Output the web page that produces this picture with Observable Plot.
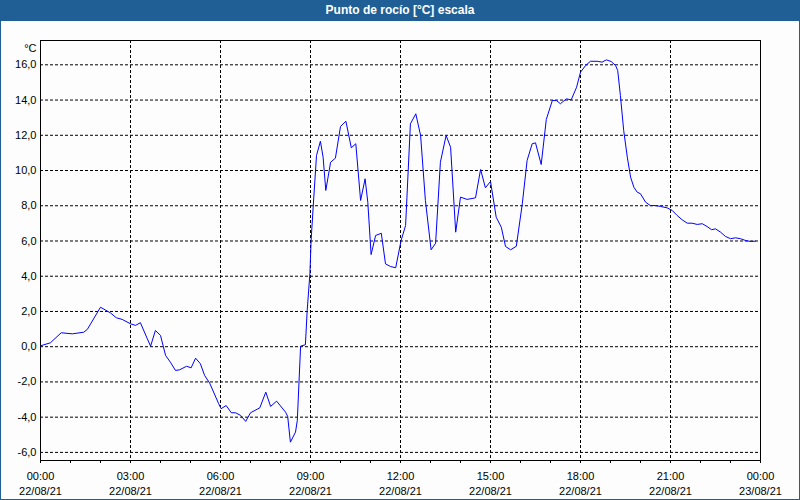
<!DOCTYPE html>
<html><head><meta charset="utf-8">
<script src="https://cdn.jsdelivr.net/npm/d3@7"></script>
<script src="https://cdn.jsdelivr.net/npm/@observablehq/plot@0.6"></script>
<style>
html,body{margin:0;padding:0;background:#fcfdfc;}
#wrap{position:relative;width:800px;height:500px;overflow:hidden;background:#fcfdfc;}
#title{height:21px;background:#1f5f96;color:#fff;font:bold 12px "Liberation Sans",Arial,sans-serif;text-align:center;line-height:21px;}
#chart svg{display:block;}
#border{position:absolute;left:0;top:0;width:798px;height:499px;border:1px solid #1f5f96;border-top:none;pointer-events:none;}
</style></head>
<body><div id="wrap"><div id="title">Punto de rocío [°C] escala</div><div id="chart"></div><div id="border"></div></div>
<script>
const hours = [0.00,0.33,0.69,1.06,1.44,1.56,2.00,2.33,2.53,2.72,3.00,3.17,3.33,3.56,3.67,3.83,4.00,4.17,4.33,4.50,4.64,4.87,5.02,5.17,5.33,5.47,5.64,5.94,6.02,6.19,6.36,6.50,6.67,6.84,7.00,7.31,7.51,7.67,7.87,8.17,8.24,8.33,8.50,8.56,8.67,8.83,8.89,8.98,9.02,9.11,9.20,9.33,9.42,9.51,9.67,9.83,10.00,10.18,10.36,10.51,10.67,10.82,10.91,11.02,11.17,11.36,11.50,11.67,11.84,12.02,12.17,12.33,12.51,12.67,12.83,13.02,13.17,13.33,13.52,13.67,13.84,14.00,14.22,14.50,14.67,14.83,15.00,15.19,15.36,15.50,15.67,15.86,16.06,16.22,16.39,16.50,16.69,16.86,17.06,17.20,17.33,17.53,17.69,17.87,18.00,18.17,18.33,18.56,18.72,18.86,19.02,19.17,19.24,19.33,19.44,19.56,19.67,19.78,19.89,20.00,20.17,20.33,20.50,20.67,20.89,21.06,21.22,21.39,21.56,21.72,21.89,22.06,22.22,22.37,22.50,22.67,22.83,23.00,23.17,23.33,23.50,23.67,23.83];
const dewPoint = [0.05,0.22,0.79,0.73,0.82,0.98,2.24,1.92,1.64,1.55,1.30,1.21,1.36,0.45,0.03,0.92,0.64,-0.50,-0.88,-1.35,-1.31,-1.11,-1.20,-0.65,-0.97,-1.63,-2.07,-3.24,-3.52,-3.34,-3.75,-3.75,-3.90,-4.24,-3.75,-3.47,-2.58,-3.39,-3.09,-3.72,-3.96,-5.42,-4.85,-4.19,0.03,0.11,2.06,4.14,6.03,8.49,10.85,11.66,10.76,8.87,10.47,10.70,12.50,12.80,11.29,11.52,8.30,9.53,8.20,5.23,6.31,6.44,4.70,4.55,4.48,6.03,6.88,12.65,13.22,11.99,8.30,5.50,5.87,10.47,11.99,11.32,6.50,8.49,8.36,8.45,10.06,9.02,9.38,7.35,6.78,5.69,5.50,5.70,8.11,10.57,11.52,11.57,10.34,12.90,13.97,13.97,13.79,14.07,14.01,14.73,15.58,15.96,16.20,16.20,16.15,16.28,16.19,15.96,15.68,14.26,12.27,10.76,9.62,9.05,8.77,8.68,8.20,8.01,8.01,7.96,7.88,7.73,7.45,7.20,7.01,7.01,6.94,6.98,6.82,6.64,6.69,6.50,6.26,6.13,6.18,6.13,6.03,5.97,5.99];
const yTicks = [-6,-4,-2,0,2,4,6,8,10,12,14,16];
const xTickHours = [0,3,6,9,12,15,18,21,24];
const xTickTimes = ["00:00","03:00","06:00","09:00","12:00","15:00","18:00","21:00","00:00"];
const xTickDates = ["22/08/21","22/08/21","22/08/21","22/08/21","22/08/21","22/08/21","22/08/21","22/08/21","23/08/21"];
const xMinorHours = [0,1,2,3,4,5,6,7,8,9,10,11,12,13,14,15,16,17,18,19,20,21,22,23,24];
const yUnit = "°C";

const data = hours.map((h, i) => ({h, v: dewPoint[i]}));
const labelOf = new Map(xTickHours.map((h, i) => [h, xTickTimes[i] + "\n" + xTickDates[i]]));

const chart = Plot.plot({
  width: 800, height: 479,
  marginTop: 19, marginBottom: 40, marginLeft: 40, marginRight: 40,
  style: {background: "transparent", fontFamily: "'Liberation Sans', Arial, sans-serif", fontSize: "11px", color: "#000"},
  x: {domain: [0, 24], label: null},
  y: {domain: [-6.46, 17.38], label: null},
  marks: [
    Plot.gridX(xTickHours.filter(h => h > 0 && h < 24), {stroke: "#000", strokeOpacity: 1, strokeDasharray: "3,2"}),
    Plot.gridY(yTicks, {stroke: "#000", strokeOpacity: 1, strokeDasharray: "3,2"}),
    Plot.axisX(xMinorHours, {tickSize: 3, tickFormat: () => "", label: null, stroke: "#000"}),
    Plot.axisX(xTickHours, {tickSize: 3, tickPadding: 6, tickFormat: h => labelOf.get(h), lineHeight: 1.33, fontSize: 11, label: null, stroke: "#000"}),
    Plot.axisY(yTicks, {tickSize: 0, tickPadding: 4, tickFormat: d => d.toFixed(1).replace(".", ","), label: null, fontSize: 11}),
    Plot.text([yUnit], {frameAnchor: "top-left", dx: -4, dy: 4, textAnchor: "end", text: d => d, fontSize: 11}),
    Plot.frame({stroke: "#000"}),
    Plot.line(data, {x: "h", y: "v", stroke: "#0000ff", strokeWidth: 1})
  ]
});
document.getElementById("chart").appendChild(chart);
</script>
</body></html>
